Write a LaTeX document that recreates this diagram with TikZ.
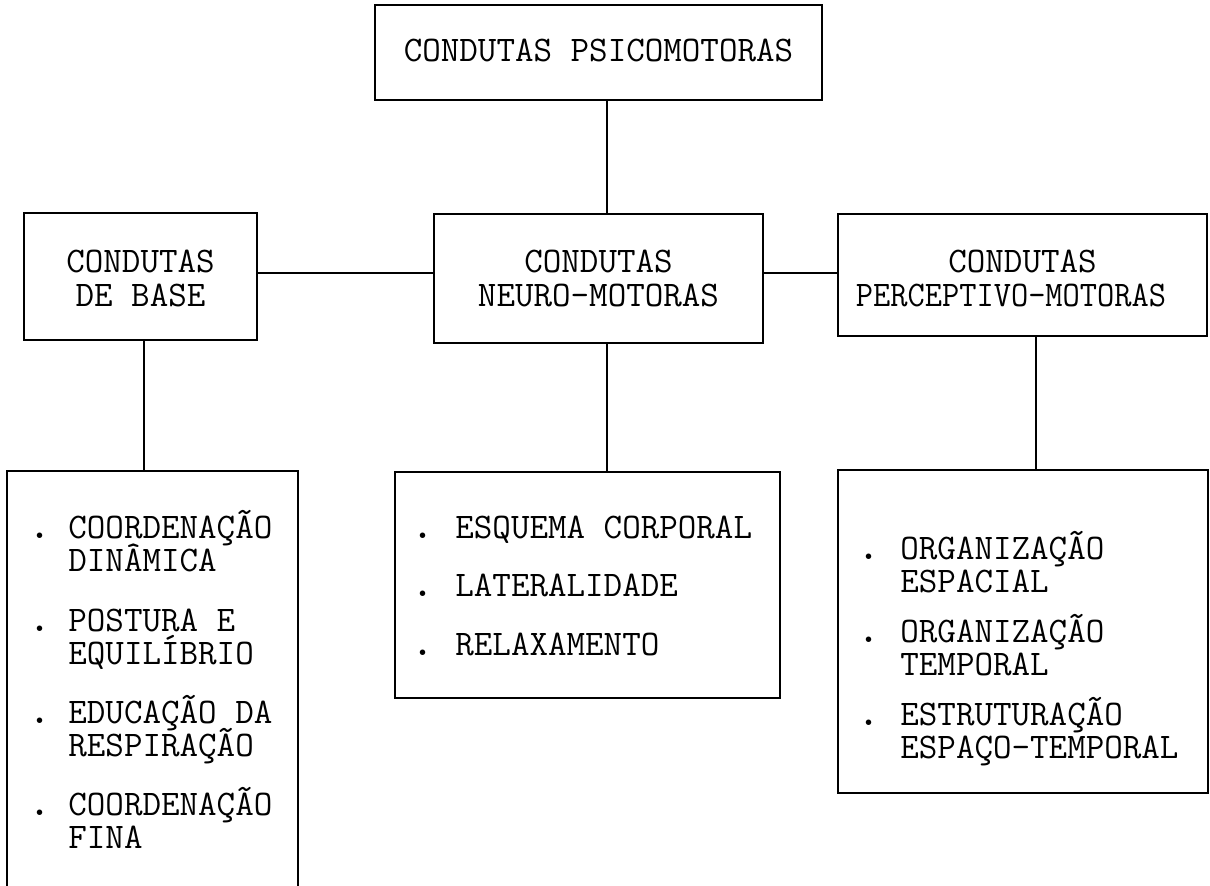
\documentclass[tikz,border=0pt]{standalone}
\usepackage{graphicx}
\begin{document}
\begin{tikzpicture}[x=0.5pt,y=-0.5pt,
  box/.style={draw,line width=1.1pt,rectangle,inner sep=0pt},
  txt/.style={font=\ttfamily\fontsize{18}{22}\selectfont,inner sep=0pt},
  ln/.style={txt,anchor=base west},
  dot/.style={txt,anchor=base,font=\ttfamily\bfseries\fontsize{20}{22}\selectfont},
  ct/.style={txt,anchor=base},
  conn/.style={line width=1.1pt}]
\useasboundingbox (0,0) rectangle (1210,885);
\clip (0,0) rectangle (1210,885);
% boxes
\node[box,minimum width=223.5pt,minimum height=47.5pt] (top) at (598.5,52.5) {};
\node[box,minimum width=116.5pt,minimum height=63.5pt] (base) at (140.5,276.5) {};
\node[box,minimum width=164.5pt,minimum height=64.5pt] (neuro) at (598.5,278.5) {};
\node[box,minimum width=184.5pt,minimum height=61pt] (perc) at (1022.5,275) {};
\node[box,minimum width=145.5pt,minimum height=214.5pt] (lb) at (152.5,685.5) {};
\node[box,minimum width=192.5pt,minimum height=113pt] (mb) at (587.5,585) {};
\node[box,minimum width=185pt,minimum height=161.5pt] (rb) at (1023,631.5) {};
% box texts
\node[ct] (ttop) at (598.5,61) {CONDUTAS PSICOMOTORAS};
\node[ct] (tb1) at (140.5,272) {CONDUTAS};
\node[ct] (tb2) at (140.5,306) {DE BASE};
\node[ct] (tn1) at (598.5,272) {CONDUTAS};
\node[ct] (tn2) at (598.5,306) {NEURO-MOTORAS};
\node[ct] (tp1) at (1022.5,272) {CONDUTAS};
\node[ct] (tp2) at (1011,306) {\scalebox{0.93}[1]{PERCEPTIVO-MOTORAS}};
% connectors
\draw[conn] (607,0 |- top.south) -- (607,0 |- neuro.north);
\draw[conn] (base.east |- 0,273) -- (neuro.west |- 0,273);
\draw[conn] (neuro.east |- 0,273) -- (perc.west |- 0,273);
\draw[conn] (144,0 |- base.south) -- (144,0 |- lb.north);
\draw[conn] (607,0 |- neuro.south) -- (607,0 |- mb.north);
\draw[conn] (1036,0 |- perc.south) -- (1036,0 |- rb.north);
% left list
\node[dot] (lbb1) at (40,538) {.};
\node[ln] (lb1) at (68,538) {COORDENAÇÃO};
\node[ln] (lb2) at (68,571) {DINÂMICA};
\node[dot] (lbb2) at (40,631) {.};
\node[ln] (lb3) at (68,631) {POSTURA E};
\node[ln] (lb4) at (68,664) {EQUILÍBRIO};
\node[dot] (lbb3) at (40,723) {.};
\node[ln] (lb5) at (68,723) {EDUCAÇÃO DA};
\node[ln] (lb6) at (68,756) {RESPIRAÇÃO};
\node[dot] (lbb4) at (40,815) {.};
\node[ln] (lb7) at (68,815) {COORDENAÇÃO};
\node[ln] (lb8) at (68,848) {FINA};
% middle list
\node[dot] (mbb1) at (423,538) {.};
\node[ln] (mb1) at (455,538) {ESQUEMA CORPORAL};
\node[dot] (mbb2) at (423,596) {.};
\node[ln] (mb2) at (455,596) {LATERALIDADE};
\node[dot] (mbb3) at (423,655) {.};
\node[ln] (mb3) at (455,655) {RELAXAMENTO};
% right list
\node[dot] (rbb1) at (869,559) {.};
\node[ln] (rb1) at (900,559) {ORGANIZAÇÃO};
\node[ln] (rb2) at (900,592) {ESPACIAL};
\node[dot] (rbb2) at (869,642) {.};
\node[ln] (rb3) at (900,642) {ORGANIZAÇÃO};
\node[ln] (rb4) at (900,675) {TEMPORAL};
\node[dot] (rbb3) at (869,725) {.};
\node[ln] (rb5) at (900,725) {ESTRUTURAÇÃO};
\node[ln] (rb6) at (900,758) {ESPAÇO-TEMPORAL};
\end{tikzpicture}
\end{document}
